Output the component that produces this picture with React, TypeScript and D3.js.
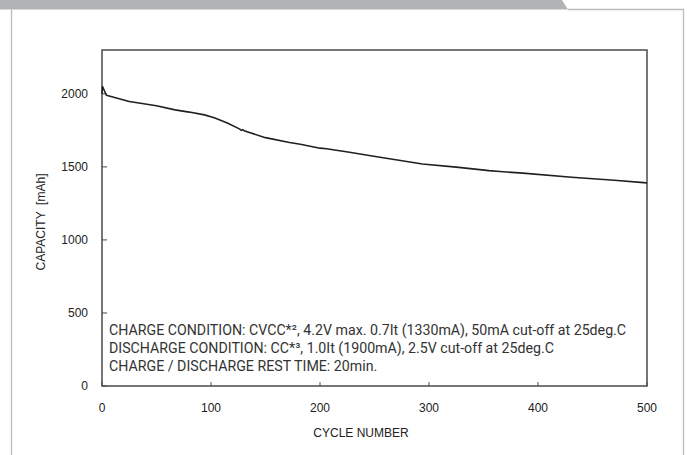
import React from "react";
import * as d3 from "d3";

// cycle number / capacity (mAh)
const cycles = [0, 0.5, 4, 25, 50, 67, 80, 94, 103, 115, 126, 128, 129, 131, 150, 172, 182, 200, 206, 227, 255, 294, 325, 355, 365, 386, 431, 470, 497, 500];
const capacity = [2000, 2050, 1990, 1947, 1918, 1890, 1875, 1856, 1836, 1800, 1760, 1750, 1755, 1745, 1700, 1667, 1655, 1628, 1624, 1600, 1566, 1520, 1498, 1474, 1468, 1457, 1429, 1408, 1392, 1390];

const xTicks = [0, 100, 200, 300, 400, 500];
const yTicks = [0, 500, 1000, 1500, 2000];

const notes = [
  "CHARGE CONDITION: CVCC*\u00b2, 4.2V max. 0.7It (1330mA), 50mA cut-off at 25deg.C",
  "DISCHARGE CONDITION: CC*\u00b3, 1.0It (1900mA), 2.5V cut-off at 25deg.C",
  "CHARGE / DISCHARGE REST TIME: 20min.",
];

const W = 687;
const H = 455;
const plot = { left: 102, right: 647, top: 50, bottom: 386 };

export default function App() {
  const x = d3.scaleLinear().domain([0, 500]).range([plot.left, plot.right]);
  const y = d3.scaleLinear().domain([0, 2300]).range([plot.bottom, plot.top]);

  const pts = cycles.map((c, i) => [c, capacity[i]] as [number, number]);
  const line = d3
    .line<[number, number]>()
    .x((d) => x(d[0]))
    .y((d) => y(d[1]));

  const tickFont = "'Liberation Sans', Arial, sans-serif";

  return (
    <svg
      width={W}
      height={H}
      style={{ position: "absolute", left: 0, top: 0, background: "#fff" }}
    >
      {/* page frame */}
      <polygon points="0,0 562,0 568,9.5 0,9.5" fill="#b2b3b5" />
      <path
        d="M11.5,9.5 V455 M568,9.5 H683.5 V455"
        fill="none"
        stroke="#bcbcbc"
        strokeWidth={1.3}
      />

      {/* plot box */}
      <rect
        x={plot.left}
        y={plot.top}
        width={plot.right - plot.left}
        height={plot.bottom - plot.top}
        fill="none"
        stroke="#4a4a4a"
        strokeWidth={1.5}
      />

      {/* y ticks */}
      {yTicks.map((t) => (
        <g key={"y" + t}>
          <line x1={plot.left} x2={plot.left + 5} y1={y(t)} y2={y(t)} stroke="#4a4a4a" strokeWidth={1} />
          <text
            x={88}
            y={y(t) + 4}
            textAnchor="end"
            fontFamily={tickFont}
            fontSize={12}
            fill="#222"
          >
            {t}
          </text>
        </g>
      ))}

      {/* x ticks */}
      {xTicks.map((t) => (
        <g key={"x" + t}>
          <line x1={x(t)} x2={x(t)} y1={plot.bottom} y2={plot.bottom - 4} stroke="#4a4a4a" strokeWidth={1} />
          <text
            x={x(t)}
            y={412}
            textAnchor="middle"
            fontFamily={tickFont}
            fontSize={12}
            fill="#222"
          >
            {t}
          </text>
        </g>
      ))}

      {/* axis titles */}
      <text x={361} y={437} textAnchor="middle" fontFamily={tickFont} fontSize={12} fill="#222">
        CYCLE NUMBER
      </text>
      <text
        transform="translate(45,222) rotate(-90)"
        textAnchor="middle"
        fontFamily={tickFont}
        fontSize={12}
        fill="#222"
        style={{ whiteSpace: "pre" }}
      >
        {"CAPACITY  [mAh]"}
      </text>

      {/* curve */}
      <path d={line(pts) || ""} fill="none" stroke="#231f20" strokeWidth={1.6} strokeLinejoin="round" />

      {/* test conditions */}
      {notes.map((n, i) => (
        <text
          key={i}
          x={109}
          y={335 + i * 18}
          fontFamily="Roboto, sans-serif"
          fontSize={14.2}
          fill="#333"
        >
          {n}
        </text>
      ))}
    </svg>
  );
}
